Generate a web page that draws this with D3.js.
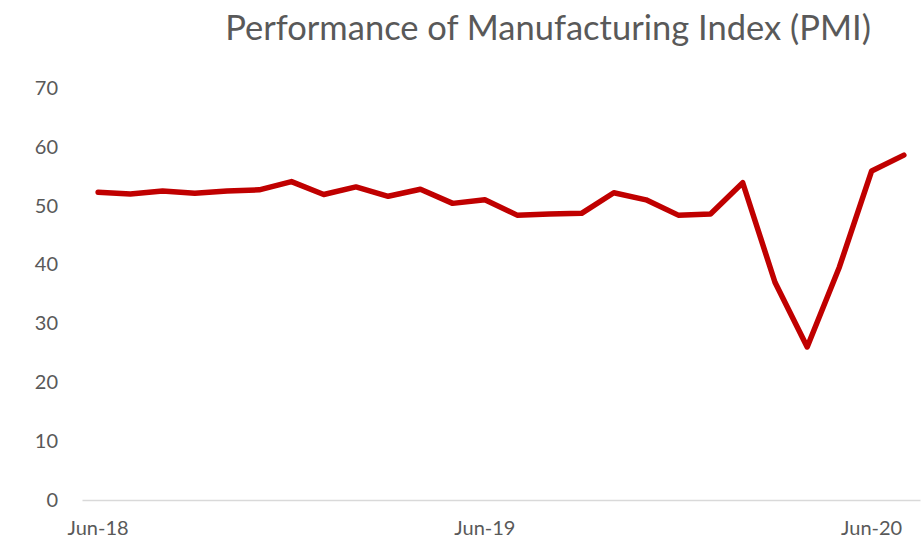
<!DOCTYPE html>
<html>
<head>
<meta charset="utf-8">
<script src="https://cdn.jsdelivr.net/npm/d3@7"></script>
<style>
  html, body { margin: 0; padding: 0; background: #fff; }
  svg { display: block; font-family: Lato, "Open Sans", sans-serif; }
</style>
</head>
<body>
<svg id="chart" width="922" height="549"></svg>
<script>
// Monthly PMI readings, Jun-18 through Jul-20
const months = [
  "Jun-18", "Jul-18", "Aug-18", "Sep-18", "Oct-18", "Nov-18", "Dec-18",
  "Jan-19", "Feb-19", "Mar-19", "Apr-19", "May-19", "Jun-19", "Jul-19",
  "Aug-19", "Sep-19", "Oct-19", "Nov-19", "Dec-19", "Jan-20", "Feb-20",
  "Mar-20", "Apr-20", "May-20", "Jun-20", "Jul-20"
];
const pmi = [
  52.3, 52.0, 52.5, 52.1, 52.5, 52.7, 54.1,
  51.9, 53.2, 51.6, 52.8, 50.4, 51.0, 48.4,
  48.6, 48.7, 52.2, 51.0, 48.4, 48.6, 53.9,
  37.0, 26.0, 39.6, 55.9, 58.6
];
const yTicks = [0, 10, 20, 30, 40, 50, 60, 70];
const xTickLabels = ["Jun-18", "Jun-19", "Jun-20"];
const title = "Performance of Manufacturing Index (PMI)";

const svg = d3.select("#chart");
const margin = { left: 82, right: 2, top: 88, bottom: 49 };
const W = 922, H = 549;

const x = d3.scaleBand()
  .domain(months)
  .range([margin.left, W - margin.right]);

const y = d3.scaleLinear()
  .domain([0, 70])
  .range([H - margin.bottom, margin.top]);

const textColor = "#595959";

// Title
svg.append("text")
  .attr("x", 548)
  .attr("y", 40)
  .attr("text-anchor", "middle")
  .attr("fill", textColor)
  .attr("font-size", 34.5)
  .text(title);

// Y axis labels (no axis line, no gridlines)
const yAxis = d3.axisLeft(y).tickValues(yTicks).tickSize(0).tickPadding(24);
const gy = svg.append("g")
  .attr("transform", `translate(${margin.left},0)`)
  .call(yAxis);
gy.select(".domain").remove();
gy.selectAll("text")
  .attr("fill", textColor)
  .attr("font-size", 20)
  .attr("font-family", "Lato, 'Open Sans', sans-serif");

// X axis: baseline plus a few month labels
const xAxis = d3.axisBottom(x).tickValues(xTickLabels).tickSize(0).tickPadding(21);
const gx = svg.append("g")
  .attr("transform", `translate(0,${y(0)})`)
  .call(xAxis);
gx.select(".domain")
  .attr("stroke", "#d9d9d9")
  .attr("stroke-width", 1.5);
gx.selectAll("text")
  .attr("fill", textColor)
  .attr("font-size", 20)
  .attr("font-family", "Lato, 'Open Sans', sans-serif");

// PMI line
const line = d3.line()
  .x((d, i) => x(months[i]) + x.bandwidth() / 2)
  .y(d => y(d));

svg.append("path")
  .datum(pmi)
  .attr("fill", "none")
  .attr("stroke", "#C00000")
  .attr("stroke-width", 5.5)
  .attr("stroke-linejoin", "round")
  .attr("stroke-linecap", "round")
  .attr("d", line);
</script>
</body>
</html>
